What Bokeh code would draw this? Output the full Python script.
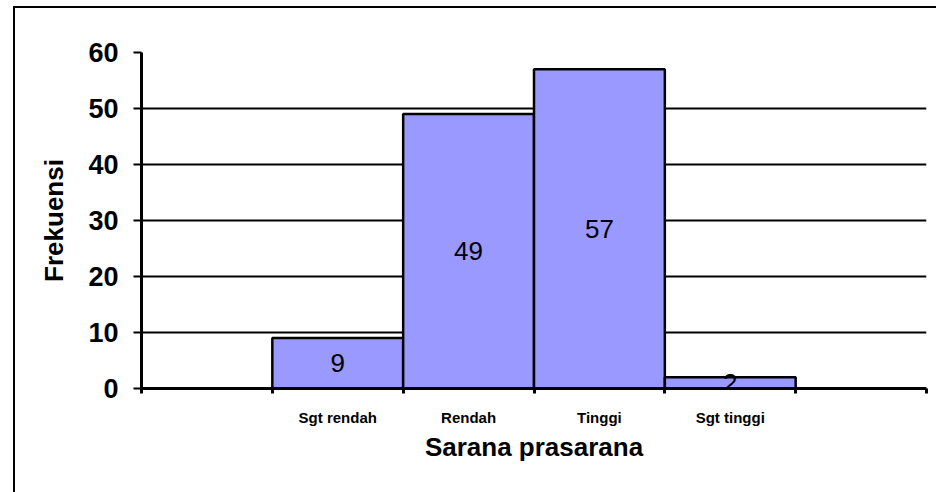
from bokeh.plotting import figure
from bokeh.models import FixedTicker, Range1d, LabelSet, ColumnDataSource, InlineStyleSheet
from bokeh.core.properties import value
from bokeh.embed import file_html
from bokeh.resources import INLINE
import numpy as np

categories = ["Sgt rendah", "Rendah", "Tinggi", "Sgt tinggi"]
values = [9, 49, 57, 2]
y_ticks = [0, 10, 20, 30, 40, 50, 60]

FONT = "Liberation Sans"
n_slots = len(categories) + 2
centers = (np.arange(len(categories)) + 1.5).tolist()

src = ColumnDataSource(dict(
    x=centers,
    top=values,
    mid=[v / 2 for v in values],
    label=[str(v) for v in values],
))

p = figure(width=936, height=492, x_range=Range1d(0, n_slots), y_range=Range1d(0, 60),
           output_backend="svg", toolbar_location=None,
           min_border_left=141, min_border_right=10, min_border_top=52, min_border_bottom=104)
p.outline_line_color = None
p.background_fill_color = "white"
p.border_fill_color = "white"

p.vbar(x="x", top="top", width=1.0, source=src, fill_color="#9999FF",
       line_color="black", line_width=2.5)

labels = LabelSet(x="x", y="mid", text="label", source=src, text_align="center",
                  text_baseline="middle", text_font_size=value("26px"), text_font=value(FONT),
                  text_color="black")
p.add_layout(labels)

# y axis
ya = p.yaxis[0]
ya.ticker = FixedTicker(ticks=y_ticks)
ya.axis_line_width = 3
ya.major_tick_out = 8
ya.major_tick_in = 0
ya.major_tick_line_width = 2
ya.minor_tick_line_color = None
ya.major_label_text_font = FONT
ya.major_label_text_font_style = "bold"
ya.major_label_text_font_size = "27px"
ya.major_label_text_color = "black"
ya.major_label_standoff = 15
ya.axis_label = "Frekuensi"
ya.axis_label_text_font = FONT
ya.axis_label_text_font_style = "bold"
ya.axis_label_text_font_size = "26px"
ya.axis_label_text_color = "black"
ya.axis_label_standoff = 16

p.xgrid.visible = False
p.ygrid.ticker = FixedTicker(ticks=y_ticks)
p.ygrid.grid_line_color = "black"
p.ygrid.grid_line_width = 2

# x axis
xa = p.xaxis[0]
xa.ticker = FixedTicker(ticks=centers, minor_ticks=list(range(n_slots + 1)))
xa.major_label_overrides = {c: cat for c, cat in zip(centers, categories)}
xa.axis_line_width = 3
xa.major_tick_out = 0
xa.major_tick_in = 0
xa.minor_tick_out = 5
xa.minor_tick_in = 0
xa.minor_tick_line_width = 3
xa.minor_tick_line_color = "black"
xa.major_label_text_font = FONT
xa.major_label_text_font_style = "bold"
xa.major_label_text_font_size = "15px"
xa.major_label_text_color = "black"
xa.major_label_standoff = 15
xa.axis_label = "Sarana prasarana"
xa.axis_label_text_font = FONT
xa.axis_label_text_font_style = "bold"
xa.axis_label_text_font_size = "26px"
xa.axis_label_text_color = "black"
xa.axis_label_standoff = 3

# outer chart-area border (left and top edges visible in the reference)
border_css = InlineStyleSheet(css="""
:host { position: relative; }
:host::after {
  content: "";
  position: absolute;
  left: 13px; top: 6px;
  width: 923px; height: 486px;
  box-sizing: border-box;
  border-left: 2px solid black;
  border-top: 2px solid black;
  pointer-events: none;
  z-index: 10;
}
""")
p.stylesheets = [border_css]

open("out.html", "w").write(file_html(p, INLINE))
